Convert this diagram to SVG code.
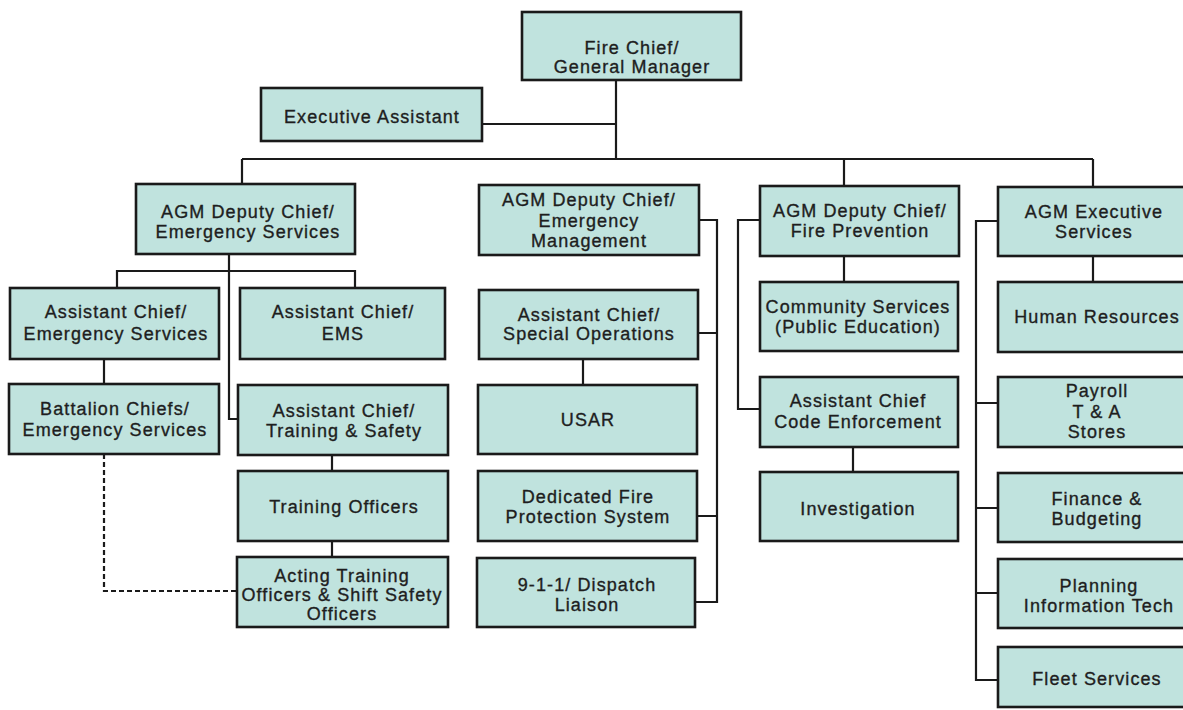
<svg xmlns="http://www.w3.org/2000/svg" width="1183" height="710" viewBox="0 0 1183 710">
  <style>
    .box rect { fill: #c0e3de; stroke: #1a1a1a; stroke-width: 2.6; }
    .box text { font-family: "Liberation Sans", Arial, sans-serif; font-size: 18px; letter-spacing: 1.1px; fill: #1e1e1e; stroke: #1e1e1e; stroke-width: 0.35; text-anchor: middle; }
    .wire { fill: none; stroke: #1a1a1a; stroke-width: 2.2; }
    .dash { fill: none; stroke: #1a1a1a; stroke-width: 2.2; stroke-dasharray: 5 3; }
  </style>
  <rect width="1183" height="710" fill="#ffffff"/>

  <!-- reporting lines -->
  <g id="connectors">
    <path class="wire" d="M616 80 V159 M482 124 H616 M242 159 H1093 M242 159 V184 M844 159 V186 M1093 159 V187"/>
    <path class="wire" d="M229 254 V419 H238 M117 288 V271 H355 V288 M104 359 V384 M332 455 V471 M332 541 V557"/>
    <path class="dash" d="M104 454 V591 H237"/>
    <path class="wire" d="M699 220 H717 V602 H695 M698 333 H717 M697 516 H717 M583 359 V385"/>
    <path class="wire" d="M844 256 V282 M760 220 H738 V409 H760 M853 447 V472"/>
    <path class="wire" d="M1093 256 V282 M998 221 H976 V680 H998 M976 403 H998 M976 508 H998 M976 593 H998"/>
  </g>

  <g id="fire-chief" class="box"><rect x="522" y="12" width="219" height="68"/><text x="632" y="54">Fire Chief/</text><text x="632" y="72.5">General Manager</text></g>
  <g id="executive-assistant" class="box"><rect x="261" y="88" width="221" height="53"/><text x="372" y="123">Executive Assistant</text></g>

  <g id="agm-emergency-services" class="box"><rect x="136" y="184" width="219" height="70"/><text x="248" y="218">AGM Deputy Chief/</text><text x="248" y="238">Emergency Services</text></g>
  <g id="ac-emergency-services" class="box"><rect x="10" y="288" width="209" height="71"/><text x="116" y="318">Assistant Chief/</text><text x="116" y="340">Emergency Services</text></g>
  <g id="ac-ems" class="box"><rect x="240" y="288" width="205" height="71"/><text x="343" y="318">Assistant Chief/</text><text x="343" y="340">EMS</text></g>
  <g id="battalion-chiefs" class="box"><rect x="9" y="384" width="210" height="70"/><text x="115" y="415">Battalion Chiefs/</text><text x="115" y="436">Emergency Services</text></g>
  <g id="ac-training-safety" class="box"><rect x="238" y="385" width="210" height="70"/><text x="344" y="417">Assistant Chief/</text><text x="344" y="437">Training &amp; Safety</text></g>
  <g id="training-officers" class="box"><rect x="238" y="471" width="210" height="70"/><text x="344" y="513">Training Officers</text></g>
  <g id="acting-training-officers" class="box"><rect x="237" y="557" width="211" height="70"/><text x="342" y="582">Acting Training</text><text x="342" y="601">Officers &amp; Shift Safety</text><text x="342" y="620">Officers</text></g>

  <g id="agm-emergency-management" class="box"><rect x="479" y="185" width="220" height="70"/><text x="589" y="206">AGM Deputy Chief/</text><text x="589" y="227">Emergency</text><text x="589" y="247">Management</text></g>
  <g id="ac-special-operations" class="box"><rect x="479" y="290" width="219" height="69"/><text x="589" y="321">Assistant Chief/</text><text x="589" y="340">Special Operations</text></g>
  <g id="usar" class="box"><rect x="478" y="385" width="219" height="69"/><text x="588" y="426">USAR</text></g>
  <g id="dedicated-fire-protection" class="box"><rect x="478" y="471" width="219" height="70"/><text x="588" y="503">Dedicated Fire</text><text x="588" y="523">Protection System</text></g>
  <g id="dispatch-liaison" class="box"><rect x="477" y="558" width="218" height="69"/><text x="587" y="591">9-1-1/ Dispatch</text><text x="587" y="611">Liaison</text></g>

  <g id="agm-fire-prevention" class="box"><rect x="760" y="186" width="199" height="70"/><text x="860" y="217">AGM Deputy Chief/</text><text x="860" y="237">Fire Prevention</text></g>
  <g id="community-services" class="box"><rect x="760" y="282" width="198" height="69"/><text x="858" y="313">Community Services</text><text x="858" y="333">(Public Education)</text></g>
  <g id="ac-code-enforcement" class="box"><rect x="760" y="377" width="198" height="70"/><text x="858" y="407">Assistant Chief</text><text x="858" y="428">Code Enforcement</text></g>
  <g id="investigation" class="box"><rect x="760" y="472" width="198" height="69"/><text x="858" y="515">Investigation</text></g>

  <g id="agm-executive-services" class="box"><rect x="998" y="187" width="194" height="69"/><text x="1094" y="218">AGM Executive</text><text x="1094" y="238">Services</text></g>
  <g id="human-resources" class="box"><rect x="998" y="282" width="194" height="70"/><text x="1097" y="323">Human Resources</text></g>
  <g id="payroll" class="box"><rect x="998" y="377" width="194" height="70"/><text x="1097" y="397">Payroll</text><text x="1097" y="418">T &amp; A</text><text x="1097" y="438">Stores</text></g>
  <g id="finance-budgeting" class="box"><rect x="998" y="473" width="194" height="69"/><text x="1097" y="505">Finance &amp;</text><text x="1097" y="525">Budgeting</text></g>
  <g id="planning-it" class="box"><rect x="998" y="559" width="194" height="69"/><text x="1099" y="592">Planning</text><text x="1099" y="612">Information Tech</text></g>
  <g id="fleet-services" class="box"><rect x="998" y="647" width="194" height="60"/><text x="1097" y="685">Fleet Services</text></g>
</svg>
